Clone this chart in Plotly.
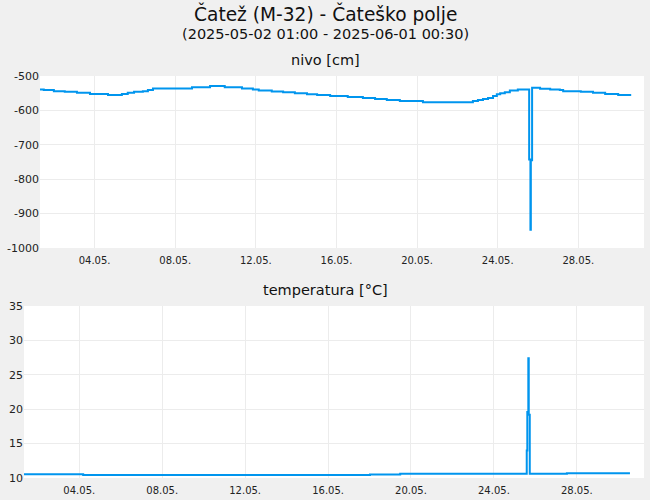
"""Groundwater level and temperature chart for Čatež (M-32) using Plotly."""

import plotly.graph_objects as go

title = "Čatež (M-32) - Čateško polje"
subtitle = "(2025-05-02 01:00 - 2025-06-01 00:30)"

# nivo [cm], step starts
nivo_time = [
    "2025-05-01 07:00", "2025-05-01 11:30", "2025-05-01 23:30", "2025-05-02 12:30",
    "2025-05-03 03:00", "2025-05-03 18:30", "2025-05-04 16:00", "2025-05-05 08:30",
    "2025-05-05 15:30", "2025-05-05 23:00", "2025-05-06 09:30", "2025-05-06 15:30",
    "2025-05-06 21:30", "2025-05-08 20:00", "2025-05-09 17:30", "2025-05-10 11:00",
    "2025-05-11 07:30", "2025-05-11 20:30", "2025-05-12 03:30", "2025-05-12 19:00",
    "2025-05-13 08:30", "2025-05-13 22:30", "2025-05-14 13:00", "2025-05-15 01:00",
    "2025-05-15 16:30", "2025-05-16 13:30", "2025-05-17 07:30", "2025-05-17 22:00",
    "2025-05-18 12:00", "2025-05-19 03:30", "2025-05-20 07:00", "2025-05-22 18:30",
    "2025-05-23 00:30", "2025-05-23 06:30", "2025-05-23 12:30", "2025-05-23 18:30",
    "2025-05-23 23:00", "2025-05-24 03:00", "2025-05-24 08:30", "2025-05-24 14:30",
    "2025-05-25 00:00", "2025-05-25 13:30", "2025-05-25 15:00", "2025-05-25 15:30",
    "2025-05-25 17:00", "2025-05-26 02:30", "2025-05-26 14:30", "2025-05-27 02:00",
    "2025-05-27 06:00", "2025-05-28 03:00", "2025-05-28 17:30", "2025-05-29 08:00",
    "2025-05-29 23:30", "2025-05-30 15:00",
]
nivo_cm = [
    -539, -541, -544, -546,
    -549, -552, -555, -552,
    -549, -546, -544, -541,
    -536, -533, -529, -533,
    -536, -539, -542, -545,
    -547, -550, -553, -555,
    -558, -561, -564, -567,
    -570, -573, -576, -573,
    -570, -567, -564, -558,
    -553, -550, -547, -542,
    -539, -743, -947, -745,
    -534, -537, -539, -541,
    -544, -546, -549, -552,
    -555, -555,
]

# temperatura [°C]
temp_time = [
    "2025-05-01 08:00", "2025-05-04 04:30", "2025-05-18 00:30", "2025-05-19 11:30",
    "2025-05-25 14:00", "2025-05-25 14:40", "2025-05-25 15:50", "2025-05-25 16:20",
    "2025-05-25 17:30", "2025-05-27 12:30", "2025-05-30 13:30",
]
temp_c = [10.55, 10.45, 10.5, 10.6, 14.0, 19.6, 27.4, 19.2, 10.6, 10.7, 10.7]

nivo_ticks = [-1000, -900, -800, -700, -600, -500]
nivo_labels = ["-1000", "-900", "-800", "-700", "-600", "-500"]
temp_ticks = [10, 15, 20, 25, 30, 35]

line_color = "#0095ee"
grid_color = "#ececec"
font_family = "DejaVu Sans"

# plot area in pixels (both panels share it)
PL, PR, PT, PB = 24, 644, 76, 478
W, H = 650, 500

fig = go.Figure()

fig.add_trace(go.Scatter(
    x=nivo_time, y=nivo_cm, mode="lines", line=dict(color=line_color, width=2, shape="hv"),
    xaxis="x", yaxis="y", showlegend=False,
))
fig.add_trace(go.Scatter(
    x=temp_time, y=temp_c, mode="lines", line=dict(color=line_color, width=2, shape="hv"),
    xaxis="x2", yaxis="y2", showlegend=False,
))

xaxis_common = dict(
    type="date", tick0="2025-05-04", dtick=4 * 86400000, tickformat="%d.%m.",
    showgrid=True, gridcolor=grid_color, gridwidth=1, zeroline=False, showline=False,
    ticks="outside", ticklen=3, tickcolor="rgba(0,0,0,0)", automargin=False,
    tickfont=dict(family=font_family, size=10, color="#222"),
)
yaxis_common = dict(
    showgrid=True, gridcolor=grid_color, gridwidth=1, zeroline=False, showline=False,
    ticks="", automargin=False, tickfont=dict(family=font_family, size=11, color="#222"),
)


def px_x(x):
    return (x - PL) / (PR - PL)


def px_y(y):
    return (PB - y) / (PB - PT)


def label(text, y_px, size):
    return dict(text=text, x=px_x(325), y=px_y(y_px), xref="paper", yref="paper",
                xanchor="center", yanchor="middle", showarrow=False,
                font=dict(size=size, color="#111"))


fig.update_layout(
    template="none",
    width=W, height=H,
    margin=dict(l=PL, r=W - PR, t=PT, b=H - PB, pad=0),
    paper_bgcolor="#f0f0f0",
    plot_bgcolor="white",
    font=dict(family=font_family, color="#111"),
    xaxis=dict(domain=[px_x(40), 1], anchor="y",
               range=["2025-05-01 07:00", "2025-05-31 06:15"], **xaxis_common),
    yaxis=dict(domain=[px_y(248), 1], anchor="x",
               range=[-1000, -500], tickvals=nivo_ticks, ticktext=nivo_labels, **yaxis_common),
    xaxis2=dict(domain=[0, 1], anchor="y2",
                range=["2025-05-01 08:00", "2025-05-31 05:45"], **xaxis_common),
    yaxis2=dict(domain=[0, px_y(306)], anchor="x2",
                range=[10, 35], tickvals=temp_ticks, **yaxis_common),
    annotations=[
        label(title, 14, 18.6),
        label(subtitle, 34, 14.5),
        label("nivo [cm]", 60, 14.5),
        label("temperatura [°C]", 290, 14.5),
    ],
)

# page body has a default 8px margin; drop it so the figure fills the window
fig.write_html("out.html", config={"displayModeBar": False},
               post_script="document.body.style.margin = '0';")
